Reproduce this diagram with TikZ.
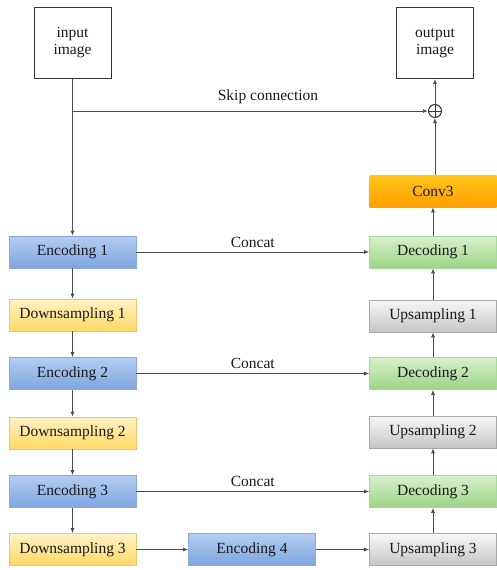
\documentclass[tikz,border=0pt]{standalone}
\usepackage{fontspec}
\setmainfont{Liberation Serif}
\usetikzlibrary{arrows.meta}
\definecolor{encTop}{HTML}{B4CDF2}
\definecolor{encBot}{HTML}{7EA6E0}
\definecolor{encLine}{HTML}{8AA8D8}
\definecolor{downTop}{HTML}{FFF2C4}
\definecolor{downBot}{HTML}{FFD966}
\definecolor{downLine}{HTML}{EBC870}
\definecolor{decTop}{HTML}{D8F0CC}
\definecolor{decBot}{HTML}{9CD485}
\definecolor{decLine}{HTML}{A8D898}
\definecolor{upTop}{HTML}{F7F7F7}
\definecolor{upBot}{HTML}{C6C6C6}
\definecolor{upLine}{HTML}{A8A8A8}
\definecolor{convTop}{HTML}{FFC61A}
\definecolor{convBot}{HTML}{FF9F00}
\tikzset{
  txt/.style={font=\fontsize{15.5}{17}\selectfont, text=black!90},
  imgbox/.style={txt, draw=black!80, line width=1pt, fill=white, minimum width=77pt, minimum height=71pt, align=center},
  blockbox/.style={txt, minimum width=127pt, minimum height=32pt, line width=0.6pt},
  encbox/.style={blockbox, draw=encLine, top color=encTop, bottom color=encBot},
  downbox/.style={blockbox, draw=downLine, top color=downTop, bottom color=downBot},
  decbox/.style={blockbox, draw=decLine, top color=decTop, bottom color=decBot},
  upbox/.style={blockbox, draw=upLine, top color=upTop, bottom color=upBot},
  convbox/.style={blockbox, top color=convTop, bottom color=convBot},
  flow/.style={draw=black!70, line width=0.9pt, -{Latex[length=5pt,width=4pt]}},
  link/.style={draw=black!70, line width=0.9pt}
}
\begin{document}
\begin{tikzpicture}[x=1pt, y=-1pt]
\useasboundingbox (0,0) rectangle (496,570);
% image boxes
\node[imgbox] (in)  at (72.5,42.5) {input\\image};
\node[imgbox] (out) at (435,43) {output\\image};
\node[circle, draw=black!80, line width=1pt, minimum size=13pt, inner sep=0pt,
  path picture={\draw[line width=1pt] (path picture bounding box.north) -- (path picture bounding box.south)
    (path picture bounding box.west) -- (path picture bounding box.east);}] (plus) at (435,111) {};
% encoder side
\node[encbox]  (enc1)  at (72.5,252) {Encoding 1};
\node[downbox] (down1) at (72.5,315) {Downsampling 1};
\node[encbox]  (enc2)  at (72.5,373.5) {Encoding 2};
\node[downbox] (down2) at (72.5,433) {Downsampling 2};
\node[encbox]  (enc3)  at (72.5,491.5) {Encoding 3};
\node[downbox] (down3) at (72.5,549.5) {Downsampling 3};
\node[encbox]  (enc4)  at (252,549.5) {Encoding 4};
% decoder side
\node[convbox] (conv)  at (433,191) {Conv3};
\node[decbox]  (dec1)  at (433,252) {Decoding 1};
\node[upbox]   (up1)   at (433,316) {Upsampling 1};
\node[decbox]  (dec2)  at (433,373.5) {Decoding 2};
\node[upbox]   (up2)   at (433,432) {Upsampling 2};
\node[decbox]  (dec3)  at (433,491.5) {Decoding 3};
\node[upbox]   (up3)   at (433,549.5) {Upsampling 3};
% connections
\coordinate (split) at (in.south |- plus);
\draw[link] (in) -- (split);
\draw[flow] (split) -- (enc1);
\draw[flow] (split) -- node[txt, above, pos=0.55, yshift=3pt] {Skip connection} (plus);
\draw[flow] (enc1) -- (down1);
\draw[flow] (down1) -- (enc2);
\draw[flow] (enc2) -- (down2);
\draw[flow] (down2) -- (enc3);
\draw[flow] (enc3) -- (down3);
\draw[flow] (down3) -- (enc4);
\draw[flow] (enc4) -- (up3);
\draw[flow] (up3) -- (dec3);
\draw[flow] (dec3) -- (up2);
\draw[flow] (up2) -- (dec2);
\draw[flow] (dec2) -- (up1);
\draw[flow] (up1) -- (dec1);
\draw[flow] (dec1) -- (conv);
\draw[flow] (conv.north -| plus) -- (plus);
\draw[flow] (plus) -- (out);
\draw[flow] (enc1) -- node[txt, above, yshift=1pt] {Concat} (dec1);
\draw[flow] (enc2) -- node[txt, above, yshift=1pt] {Concat} (dec2);
\draw[flow] (enc3) -- node[txt, above, yshift=1pt] {Concat} (dec3);
\end{tikzpicture}
\end{document}
